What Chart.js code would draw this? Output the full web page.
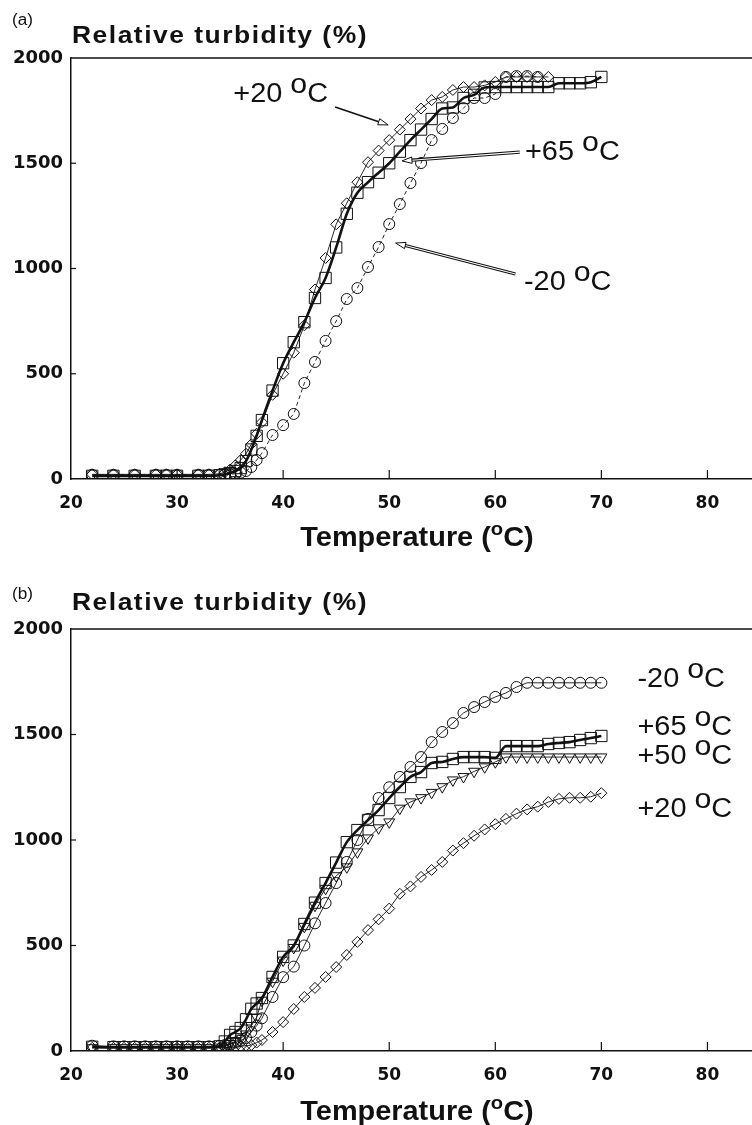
<!DOCTYPE html>
<html>
<head>
<meta charset="utf-8">
<script src="https://cdn.jsdelivr.net/npm/chart.js@4.4.1/dist/chart.umd.min.js"></script>
<style>
    html, body { margin: 0; padding: 0; background: #fff; }
    canvas { display: block; }
</style>
</head>
<body>
<canvas id="chartA" width="752" height="560"></canvas>
<canvas id="chartB" width="752" height="565"></canvas>
<script>
//======================[data]======================
const xTicks = [20, 30, 40, 50, 60, 70, 80];
const yTicks = [0, 500, 1000, 1500, 2000];

// panel (a)
const tempsA = [22, 24, 26, 28, 29, 30, 32, 33, 34, 34.5, 35, 35.5, 36, 36.5, 37, 37.5,
    38, 39, 40, 41, 42, 43, 44, 45, 46, 47, 48, 49, 50, 51, 52, 53, 54, 55, 56, 57,
    58, 59, 60, 61, 62, 63, 64, 65, 66, 67, 68, 69, 70];
const plus65A = [15, 15, 15, 15, 15, 15, 15, 15, 18, 22, 28, 38, 52, 85, 140, 205,
    280, 420, 550, 650, 745, 860, 955, 1100, 1260, 1360, 1410, 1455, 1500, 1555, 1610, 1660, 1710, 1760, 1765, 1810,
    1825, 1860, 1862, 1862, 1862, 1862, 1862, 1862, 1880, 1880, 1880, 1885, 1910];
const plus20A = [22, 22, 22, 22, 22, 22, 22, 22, 25, 32, 45, 65, 90, 120, 165, 215,
    270, 400, 500, 600, 730, 900, 1050, 1210, 1310, 1410, 1505, 1560, 1610, 1660, 1710, 1760, 1800, 1815, 1848, 1862,
    1862, 1870, 1886, 1910, 1910, 1910, 1910, 1910, null, null, null, null, null];
const minus20A = [20, 20, 20, 20, 20, 20, 20, 20, 20, 20, 22, 25, 30, 38, 57, 90,
    123, 209, 256, 309, 456, 556, 656, 750, 855, 907, 1007, 1102, 1211, 1306, 1406, 1501, 1610, 1663, 1715, 1762,
    1810, 1810, 1829, 1910, 1914, 1914, 1910, null, null, null, null, null, null];

// panel (b)
const tempsB = [22, 24, 25, 26, 27, 28, 29, 30, 31, 32, 33, 34, 34.5, 35, 35.5, 36, 36.5, 37, 37.5,
    38, 39, 40, 41, 42, 43, 44, 45, 46, 47, 48, 49, 50, 51, 52, 53, 54, 55, 56, 57,
    58, 59, 60, 61, 62, 63, 64, 65, 66, 67, 68, 69, 70];
const plus65B = [20, 18, 18, 18, 18, 18, 18, 18, 18, 18, 18, 22, 45, 76, 90, 109, 150, 200, 225,
    251, 351, 446, 500, 602, 703, 796, 893, 990, 1047, 1095, 1142, 1199, 1251, 1299, 1322, 1365, 1370, 1384, 1393,
    1393, 1393, 1389, 1445, 1445, 1445, 1445, 1455, 1460, 1464, 1474, 1483, 1493];
const minus20B = [25, 22, 22, 22, 22, 22, 22, 22, 22, 22, 22, 24, 28, 33, 40, 50, 62, 90, 120,
    155, 256, 350, 400, 500, 605, 701, 796, 896, 1000, 1100, 1199, 1250, 1299, 1346, 1393, 1464, 1512, 1554, 1602,
    1630, 1654, 1678, 1697, 1725, 1745, 1745, 1745, 1745, 1745, 1745, 1745, 1745];
const plus50B = [15, 15, 15, 15, 15, 15, 15, 15, 15, 15, 15, 18, 24, 35, 45, 60, 80, 120, 160,
    240, 330, 430, 490, 590, 690, 770, 830, 872, 943, 1009, 1057, 1085, 1150, 1180, 1200, 1225, 1252, 1284, 1300,
    1325, 1346, 1370, 1393, 1393, 1393, 1393, 1393, 1393, 1393, 1393, 1393, 1393];
const plus20B = [15, 15, 15, 15, 15, 15, 15, 15, 15, 15, 15, 15, 15, 18, 20, 22, 25, 28, 40,
    52, 90, 137, 199, 256, 299, 351, 398, 455, 517, 573, 624, 675, 745, 780, 825, 858, 896, 950, 985,
    1020, 1050, 1075, 1100, 1125, 1145, 1158, 1180, 1195, 1200, 1200, 1205, 1222];

// annotations (data units)
const labelTextA = ["+20", "+65", "-20"];
const labelXA = [35.3, 62.8, 62.7];
const labelYA = [1791, 1515, 898];
const arrowsA = [[44.9, 1767, 49.9, 1682, false], [62.3, 1553, 51.2, 1511, true], [61.9, 974, 50.6, 1121, true]];

const labelTextB = ["-20", "+65", "+50", "+20"];
const labelXB = [73.4, 73.4, 73.4, 73.4];
const labelYB = [1725, 1498, 1360, 1109];

//======================[drawing helpers]======================
const FONT = '"Liberation Sans", Arial, Helvetica, sans-serif';
const INK = "#111";

// parts: [text, sizeFactor, raiseFactor]
function drawRich(ctx, parts, x, y, o) {
    const stretch = o.stretch || 1;
    const spacing = o.spacing || 0;
    ctx.save();
    ctx.fillStyle = INK;
    ctx.textBaseline = "alphabetic";
    ctx.textAlign = "left";
    const widths = parts.map((p) => {
        ctx.font = `${o.weight} ${o.size * p[1]}px ${FONT}`;
        return ctx.measureText(p[0]).width + spacing * p[0].length;
    });
    const total = widths.reduce((a, b) => a + b, 0) * stretch;
    const x0 = o.align === "center" ? x - total / 2 : x;
    ctx.translate(x0, y);
    ctx.scale(stretch, 1);
    let cx = 0;
    parts.forEach((p, i) => {
        ctx.font = `${o.weight} ${o.size * p[1]}px ${FONT}`;
        const dy = -o.size * p[2];
        if (spacing) {
            let sx = cx;
            for (const ch of p[0]) {
                ctx.fillText(ch, sx, dy);
                sx += ctx.measureText(ch).width + spacing;
            }
        } else {
            ctx.fillText(p[0], cx, dy);
        }
        cx += widths[i];
    });
    ctx.restore();
}

function drawArrow(ctx, x0, y0, x1, y1, hollow) {
    const ang = Math.atan2(y1 - y0, x1 - x0);
    const len = 10, half = 3.2;
    const bx = x1 - Math.cos(ang) * len;
    const by = y1 - Math.sin(ang) * len;
    ctx.save();
    ctx.strokeStyle = INK;
    ctx.lineWidth = hollow ? 3.2 : 1.6;
    ctx.beginPath();
    ctx.moveTo(x0, y0);
    ctx.lineTo(bx, by);
    ctx.stroke();
    if (hollow) {
        ctx.strokeStyle = "#fff";
        ctx.lineWidth = 1.1;
        ctx.beginPath();
        ctx.moveTo(x0, y0);
        ctx.lineTo(bx, by);
        ctx.stroke();
    }
    ctx.strokeStyle = INK;
    ctx.fillStyle = "#fff";
    ctx.lineWidth = 1;
    ctx.beginPath();
    ctx.moveTo(x1, y1);
    ctx.lineTo(bx - Math.sin(ang) * half, by + Math.cos(ang) * half);
    ctx.lineTo(bx + Math.sin(ang) * half, by - Math.cos(ang) * half);
    ctx.closePath();
    ctx.fill();
    ctx.stroke();
    ctx.restore();
}

const framePlugin = {
    id: "frame",
    afterDraw(chart, args, opts) {
        const { ctx, chartArea: a } = chart;
        const x = chart.scales.x, y = chart.scales.y;
        ctx.save();
        ctx.strokeStyle = INK;
        ctx.lineWidth = 1.5;
        ctx.beginPath();
        ctx.moveTo(a.left, a.top);
        ctx.lineTo(chart.width, a.top);
        ctx.stroke();
        // inward tick marks
        ctx.lineWidth = 1.2;
        x.ticks.forEach((t) => {
            if (t.value <= x.min) return;
            const px = x.getPixelForValue(t.value);
            ctx.beginPath();
            ctx.moveTo(px, a.bottom);
            ctx.lineTo(px, a.bottom - 9);
            ctx.stroke();
        });
        y.ticks.forEach((t) => {
            if (t.value <= y.min || t.value >= y.max) return;
            const py = y.getPixelForValue(t.value);
            ctx.beginPath();
            ctx.moveTo(a.left, py);
            ctx.lineTo(a.left + 5, py);
            ctx.stroke();
        });
        ctx.restore();

        drawRich(ctx, [[opts.letter, 1, 0]], 12, opts.letterY, { size: 16, weight: "normal", stretch: 1.07 });
        drawRich(ctx, [["Relative turbidity (%)", 1, 0]], a.left + 1, opts.titleY,
            { size: 23, weight: "bold", stretch: 1.15, spacing: 1.3 });
        drawRich(ctx, [["Temperature (", 1, 0], ["o", 0.7, 0.4], ["C)", 1, 0]], 417, opts.xTitleY,
            { size: 27, weight: "bold", stretch: 1.07, align: "center" });

        (opts.arrows || []).forEach((ar) => {
            drawArrow(ctx, x.getPixelForValue(ar[0]), y.getPixelForValue(ar[1]),
                x.getPixelForValue(ar[2]), y.getPixelForValue(ar[3]), ar[4]);
        });
        opts.labels.forEach((txt, i) => {
            drawRich(ctx, [[txt + " ", 1, 0], ["o", 1.05, 0.32], ["C", 1, 0]],
                x.getPixelForValue(opts.labelX[i]), y.getPixelForValue(opts.labelY[i]),
                { size: 27, weight: "normal", stretch: 1.07 });
        });
    },
};

//======================[chart]======================
function makeChart(canvasId, temps, series, panel) {
    const datasets = series.map((s) => ({
        data: temps.map((t, i) => ({ x: t, y: s.values[i] })).filter((p) => p.y !== null),
        borderColor: INK,
        borderWidth: s.width,
        borderDash: s.dash || [],
        pointStyle: s.marker,
        pointRadius: s.radius,
        pointRotation: s.rotation || 0,
        pointBorderColor: INK,
        pointBorderWidth: 1,
        pointBackgroundColor: "rgba(0,0,0,0)",
        cubicInterpolationMode: s.smooth ? "monotone" : "default",
        tension: 0,
        fill: false,
    }));

    return new Chart(document.getElementById(canvasId), {
        type: "line",
        data: { datasets },
        options: {
            responsive: false,
            animation: false,
            devicePixelRatio: 1,
            layout: { autoPadding: false, padding: { top: panel.top, left: 0, right: 0, bottom: 0 } },
            plugins: {
                legend: { display: false },
                tooltip: { enabled: false },
                frame: panel,
            },
            scales: {
                x: {
                    type: "linear",
                    min: 20,
                    max: 84.2,
                    afterBuildTicks: (s) => { s.ticks = xTicks.map((v) => ({ value: v })); },
                    afterFit: (s) => {
                        s.height = panel.xAxisHeight;
                        s.paddingLeft = 0;
                        s.paddingRight = 0;
                    },
                    grid: { display: false, drawTicks: false },
                    border: { display: true, color: INK, width: 1.5 },
                    ticks: {
                        padding: 14,
                        color: INK,
                        maxRotation: 0,
                        autoSkip: false,
                        font: { family: "DejaVu Sans", weight: "bold", size: 17 },
                        callback: (v) => String(v),
                    },
                },
                y: {
                    min: 0,
                    max: 2000,
                    afterBuildTicks: (s) => { s.ticks = yTicks.map((v) => ({ value: v })); },
                    afterFit: (s) => {
                        s.width = 71;
                        s.paddingTop = 0;
                        s.paddingBottom = 0;
                    },
                    grid: { display: false, drawTicks: false },
                    border: { display: true, color: INK, width: 1.5 },
                    ticks: {
                        padding: 8,
                        color: INK,
                        font: { family: "DejaVu Sans", weight: "bold", size: 18 },
                        callback: (v) => String(v),
                    },
                },
            },
        },
        plugins: [framePlugin],
    });
}

makeChart("chartA", tempsA, [
    { values: plus65A, marker: "rect", radius: 8, width: 2.6, smooth: true },
    { values: plus20A, marker: "rectRot", radius: 5.5, width: 0.9 },
    { values: minus20A, marker: "circle", radius: 5.5, width: 0.9, dash: [4, 3] },
], {
    top: 58, xAxisHeight: 81, letter: "(a)", letterY: 25, titleY: 43, xTitleY: 546,
    labels: labelTextA, labelX: labelXA, labelY: labelYA, arrows: arrowsA,
});

makeChart("chartB", tempsB, [
    { values: plus65B, marker: "rect", radius: 8, width: 2.6, smooth: true },
    { values: minus20B, marker: "circle", radius: 5.5, width: 0.9 },
    { values: plus50B, marker: "triangle", radius: 6.3, width: 0.9, rotation: 180 },
    { values: plus20B, marker: "rectRot", radius: 5.5, width: 0.9 },
], {
    top: 69, xAxisHeight: 74, letter: "(b)", letterY: 39, titleY: 50, xTitleY: 560,
    labels: labelTextB, labelX: labelXB, labelY: labelYB, arrows: [],
});
</script>
</body>
</html>
